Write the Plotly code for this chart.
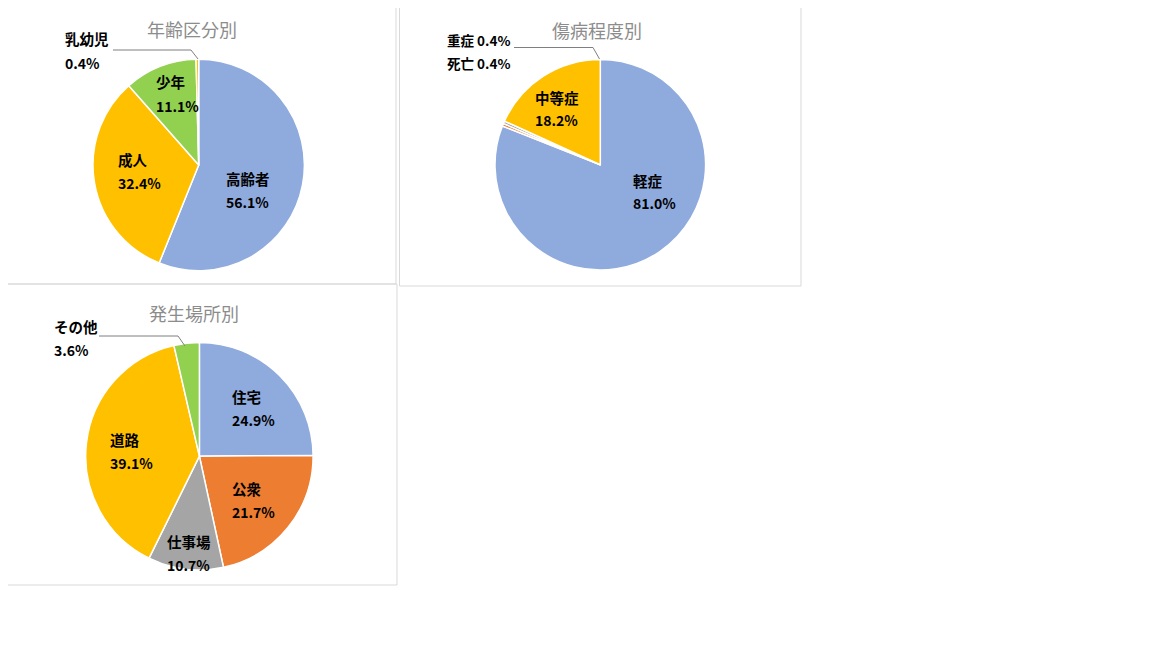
import plotly.graph_objects as go

W, H = 1152, 648
OFF = 8  # page body margin offset

# ---- data ----
age_labels = ["高齢者", "成人", "少年", "乳幼児"]
age_values = [56.1, 32.4, 11.1, 0.4]

sev_labels = ["軽症", "重症", "死亡", "中等症"]
sev_values = [81.0, 0.4, 0.4, 18.2]

place_labels = ["住宅", "公衆", "仕事場", "道路", "その他"]
place_values = [24.9, 21.7, 10.7, 39.1, 3.6]

titles = ["年齢区分別", "傷病程度別", "発生場所別"]

BLUE = "#8FAADC"
GOLD = "#FFC000"
GREEN = "#92D050"
ORANGE = "#ED7D31"
GRAY = "#A5A5A5"

age_colors = [BLUE, GOLD, GREEN, GOLD]
sev_colors = [BLUE, ORANGE, GRAY, GOLD]
place_colors = [BLUE, ORANGE, GRAY, GOLD, GREEN]


def px(x):
    return (x - OFF) / W


def py(y):
    return 1 - (y - OFF) / H


def dom(cx, cy, r):
    return dict(x=[px(cx - r), px(cx + r)], y=[py(cy + r), py(cy - r)])


fig = go.Figure()

pies = [
    (age_labels, age_values, age_colors, dom(198.7, 165.0, 105.7)),
    (sev_labels, sev_values, sev_colors, dom(600.3, 164.7, 105.3)),
    (place_labels, place_values, place_colors, dom(199.4, 456.2, 113.7)),
]
for labels, values, colors, d in pies:
    fig.add_trace(go.Pie(
        labels=labels, values=values, sort=False, direction="clockwise",
        rotation=0, textinfo="none", showlegend=False,
        marker=dict(colors=colors, line=dict(color="white", width=1.5)),
        domain=d,
    ))

FONT = "Noto Sans CJK JP"
annotations = []


def label(x, y, text, size=14.5, bold=True, color="#000000", anchor="left"):
    annotations.append(dict(
        x=px(x), y=py(y), xref="paper", yref="paper",
        text=f"<b>{text}</b>" if bold else text, showarrow=False,
        xanchor=anchor, yanchor="middle",
        font=dict(family=FONT, size=size, color=color),
    ))


def pct(v):
    return f"{v:.1f}%"


# titles
label(192, 29, titles[0], size=18, bold=False, color="#8C8C8C", anchor="center")
label(597, 30, titles[1], size=18, bold=False, color="#8C8C8C", anchor="center")
label(194, 313, titles[2], size=18, bold=False, color="#8C8C8C", anchor="center")

# chart 1 labels
pos1 = [(224, 178, 202), (116, 160, 183), (154, 82, 106), (63, 39, 63)]
for (x, y1, y2), lab, v in zip(pos1, age_labels, age_values):
    label(x, y1, lab)
    label(x, y2, pct(v), size=14)

# chart 2 labels
label(631, 180, sev_labels[0])
label(631, 203, pct(sev_values[0]), size=14)
label(445, 40, f"{sev_labels[1]} {pct(sev_values[1])}", size=13.5)
label(445, 63, f"{sev_labels[2]} {pct(sev_values[2])}", size=13.5)
label(533, 97, sev_labels[3])
label(533, 120, pct(sev_values[3]), size=14)

# chart 3 labels
pos3 = [(230, 396, 420), (230, 488, 512), (165, 541, 565), (108, 439, 463), (52, 326, 350)]
for (x, y1, y2), lab, v in zip(pos3, place_labels, place_values):
    label(x, y1, lab)
    label(x, y2, pct(v), size=14)

shapes = []
# frames
for x0, y0, x1, y1 in [(0.5, 0.5, 396, 284), (399.5, 0.5, 801, 286), (0.5, 284, 397, 585)]:
    shapes.append(dict(type="rect", xref="paper", yref="paper",
                       x0=px(x0), x1=px(x1), y0=py(y1), y1=py(y0),
                       line=dict(color="#D9D9D9", width=1), fillcolor="rgba(0,0,0,0)"))

# leader lines
for pts in [[(113, 50), (191, 50), (198, 59)],
            [(514, 47.5), (593, 47.5), (599.5, 59)],
            [(99, 336), (178, 336), (185, 346)]]:
    path = "M " + " L ".join(f"{px(x)},{py(y)}" for x, y in pts)
    shapes.append(dict(type="path", xref="paper", yref="paper", path=path,
                       line=dict(color="#7F7F7F", width=1)))

fig.update_layout(
    width=W, height=H, margin=dict(l=0, r=0, t=0, b=0),
    paper_bgcolor="white", plot_bgcolor="white",
    annotations=annotations, shapes=shapes,
)

fig.write_html("out.html")
